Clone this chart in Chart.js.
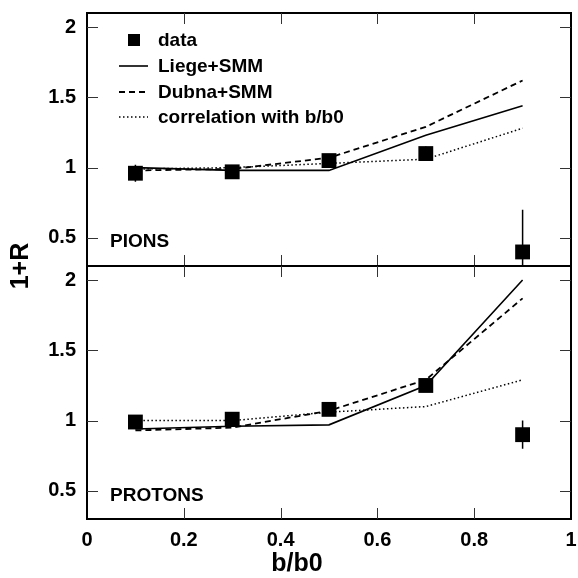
<!DOCTYPE html>
<html lang="en">
<head>
  <meta charset="UTF-8">
  <title>1+R vs b/b0 - pions and protons</title>
  <script src="https://cdn.jsdelivr.net/npm/chart.js"></script>
  <style>
    html, body { margin: 0; padding: 0; background: #fff; }
    canvas { display: block; }
  </style>
</head>
<body>
  <canvas id="c" width="578" height="578"></canvas>

  <script>
    // x positions (b/b0)
    const xVals = [0.1, 0.3, 0.5, 0.7, 0.9];

    // top panel: pions
    const pionData  = [0.96, 0.97, 1.05, 1.10, 0.40];
    const pionErr   = [0.06, 0.03, 0.04, 0.05, 0.30];
    const pionLiege = [1.00, 0.98, 0.98, 1.23, 1.44];
    const pionDubna = [0.98, 0.99, 1.07, 1.29, 1.62];
    const pionCorr  = [0.99, 1.00, 1.03, 1.06, 1.28];

    // bottom panel: protons
    const protData  = [0.99, 1.01, 1.08, 1.25, 0.90];
    const protErr   = [0.05, 0.03, 0.03, 0.04, 0.10];
    const protLiege = [0.94, 0.96, 0.97, 1.25, 2.00];
    const protDubna = [0.93, 0.95, 1.07, 1.29, 1.87];
    const protCorr  = [1.00, 1.00, 1.06, 1.10, 1.29];

    const xTicks = [0, 0.2, 0.4, 0.6, 0.8, 1];
    const yTicks = [0.5, 1, 1.5, 2];
    const legendLabels = ['data', 'Liege+SMM', 'Dubna+SMM', 'correlation with b/b0'];
    const panelLabels = ['PIONS', 'PROTONS'];

    const FAMILY = '"Liberation Sans", Arial, Helvetica, sans-serif';
    const tickFont = { family: FAMILY, size: 20, weight: 'bold' };

    function pts(ys) {
      return xVals.map((x, i) => ({ x: x, y: ys[i] }));
    }

    function dataSet(label, ys, errs, axis) {
      return {
        label: label, data: pts(ys), errs: errs, yAxisID: axis,
        showLine: false, pointStyle: 'rect', pointRadius: 10.5,
        backgroundColor: '#000', borderColor: '#000', pointBorderWidth: 0
      };
    }

    function lineSet(label, ys, axis, dash, width) {
      return {
        label: label, data: pts(ys), yAxisID: axis,
        borderColor: '#000', borderWidth: width, borderDash: dash,
        pointRadius: 0, fill: false, tension: 0
      };
    }

    const DASH = [6, 4];
    const DOT = [1.5, 2.5];

    // inside ticks + panel frames
    const framePlugin = {
      id: 'frame',
      afterDatasetsDraw(chart) {
        const ctx = chart.ctx;
        const x = chart.scales.x;
        ['yTop', 'yBot'].forEach(id => {
          const y = chart.scales[id];
          const l = x.left, r = x.right, t = y.top, b = y.bottom;
          ctx.save();
          ctx.strokeStyle = '#000';
          ctx.lineWidth = 2;
          ctx.strokeRect(l, t, r - l, b - t);
          ctx.strokeStyle = '#333';
          ctx.lineWidth = 1;
          ctx.beginPath();
          yTicks.forEach(v => {
            const py = Math.round(y.getPixelForValue(v)) + 0.5;
            ctx.moveTo(l, py); ctx.lineTo(l + 11, py);
            ctx.moveTo(r, py); ctx.lineTo(r - 11, py);
          });
          xTicks.slice(1, -1).forEach(v => {
            const px = Math.round(x.getPixelForValue(v)) + 0.5;
            ctx.moveTo(px, t); ctx.lineTo(px, t + 11);
            ctx.moveTo(px, b); ctx.lineTo(px, b - 11);
          });
          ctx.stroke();
          ctx.restore();
        });
      }
    };

    // vertical error bars, clipped to their panel
    const errorPlugin = {
      id: 'errbars',
      afterDatasetsDraw(chart) {
        const ctx = chart.ctx;
        const x = chart.scales.x;
        chart.data.datasets.forEach((ds, i) => {
          if (!ds.errs) return;
          const y = chart.scales[ds.yAxisID];
          const meta = chart.getDatasetMeta(i);
          ctx.save();
          ctx.beginPath();
          ctx.rect(x.left, y.top, x.right - x.left, y.bottom - y.top);
          ctx.clip();
          ctx.strokeStyle = '#000';
          ctx.lineWidth = 1.5;
          ctx.beginPath();
          ds.data.forEach((p, j) => {
            const px = meta.data[j].x;
            ctx.moveTo(px, y.getPixelForValue(p.y - ds.errs[j]));
            ctx.lineTo(px, y.getPixelForValue(p.y + ds.errs[j]));
          });
          ctx.stroke();
          ctx.restore();
        });
      }
    };

    // legend, panel names, axis titles
    const textPlugin = {
      id: 'texts',
      afterDraw(chart) {
        const ctx = chart.ctx;
        const x = chart.scales.x;
        const yT = chart.scales.yTop, yB = chart.scales.yBot;
        const l = x.left;
        ctx.save();
        ctx.fillStyle = '#000';
        ctx.strokeStyle = '#000';
        ctx.font = 'bold 19px ' + FAMILY;
        ctx.textBaseline = 'middle';
        ctx.textAlign = 'left';

        const rows = [27, 53, 79, 104];
        legendLabels.forEach((txt, i) => {
          const ds = chart.data.datasets[i];
          const ry = yT.top + rows[i];
          if (i === 0) {
            ctx.fillRect(l + 41, ry - 6, 12, 12);
          } else {
            ctx.beginPath();
            ctx.setLineDash(ds.borderDash || []);
            ctx.lineWidth = ds.borderWidth;
            ctx.moveTo(l + 32, ry);
            ctx.lineTo(l + 61, ry);
            ctx.stroke();
            ctx.setLineDash([]);
          }
          ctx.fillText(txt, l + 71, ry + 1);
        });

        ctx.fillText(panelLabels[0], l + 23, yT.bottom - 24);
        ctx.fillText(panelLabels[1], l + 23, yB.bottom - 23);

        ctx.font = 'bold 25px ' + FAMILY;
        ctx.textAlign = 'center';
        ctx.fillText('b/b0', 297, 564);

        ctx.translate(21, (yT.top + yB.bottom) / 2);
        ctx.rotate(-Math.PI / 2);
        ctx.fillText('1+R', 0, 0);
        ctx.restore();
      }
    };

    function yAxis() {
      return {
        type: 'linear', position: 'left', stack: 'panels', stackWeight: 1,
        min: 0.3, max: 2.1,
        afterBuildTicks: s => { s.ticks = yTicks.map(v => ({ value: v })); },
        afterFit: s => { s.width = 87; s.paddingTop = 0; s.paddingBottom = 0; },
        grid: { display: false, drawTicks: false },
        border: { display: false },
        ticks: { font: tickFont, color: '#000', padding: 11, callback: v => String(v) }
      };
    }

    const ctx = document.getElementById('c').getContext('2d');
    const chart = new Chart(ctx, {
      type: 'line',
      data: {
        datasets: [
          dataSet('data', pionData, pionErr, 'yTop'),
          lineSet('Liege+SMM', pionLiege, 'yTop', [], 1.6),
          lineSet('Dubna+SMM', pionDubna, 'yTop', DASH, 1.8),
          lineSet('correlation with b/b0', pionCorr, 'yTop', DOT, 1.5),
          dataSet('data', protData, protErr, 'yBot'),
          lineSet('Liege+SMM', protLiege, 'yBot', [], 1.6),
          lineSet('Dubna+SMM', protDubna, 'yBot', DASH, 1.8),
          lineSet('correlation with b/b0', protCorr, 'yBot', DOT, 1.5)
        ]
      },
      options: {
        responsive: false,
        animation: false,
        events: [],
        layout: { autoPadding: false, padding: { top: 13, right: 7, left: 0, bottom: 0 } },
        plugins: { legend: { display: false }, tooltip: { enabled: false } },
        scales: {
          x: {
            type: 'linear', min: 0, max: 1,
            afterBuildTicks: s => { s.ticks = xTicks.map(v => ({ value: v })); },
            afterFit: s => { s.height = 59; s.paddingLeft = 0; s.paddingRight = 0; },
            grid: { display: false, drawTicks: false },
            border: { display: false },
            ticks: { font: tickFont, color: '#000', padding: 9, maxRotation: 0, autoSkip: false, callback: v => String(v) }
          },
          yBot: yAxis(),
          yTop: yAxis()
        }
      },
      plugins: [framePlugin, errorPlugin, textPlugin]
    });
  </script>
</body>
</html>
